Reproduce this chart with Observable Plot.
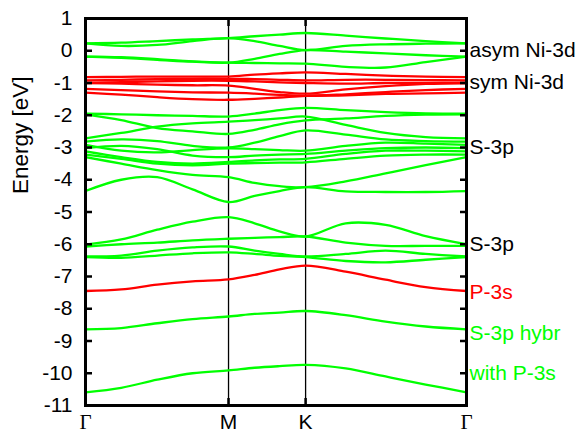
<!DOCTYPE html>
<html><head><meta charset="utf-8">
<script src="https://cdn.jsdelivr.net/npm/d3@7"></script>
<script src="https://cdn.jsdelivr.net/npm/@observablehq/plot@0.6"></script>
<style>body{margin:0;background:#fff}</style>
</head><body><div id="chart"></div>
<script>
// k-path positions (Γ – M – K – Γ) of the sampled points
const kpath = [0, 0.148, 0.297, 0.443, 0.592, 0.700, 0.803, 0.911, 1.077, 1.242, 1.408, 1.577];
const symPos = [0, 0.592, 0.911, 1.577];
const symLabels = ["Γ", "M", "K", "Γ"];
const yTicks = [-11, -10, -9, -8, -7, -6, -5, -4, -3, -2, -1, 0, 1];
const yTitle = "Energy [eV]";

// green bands (S-3p dominated)
const t1 = [0.23, 0.25, 0.30, 0.35, 0.39, 0.45, 0.50, 0.55, 0.47, 0.38, 0.30, 0.23];
const t2 = [0.23, 0.15, 0.18, 0.30, 0.39, 0.30, 0.15, 0.02, 0.15, 0.20, 0.22, 0.23];
const t3 = [-0.18, -0.22, -0.28, -0.34, -0.37, -0.25, -0.10, 0.02, -0.03, -0.08, -0.14, -0.18];
const t4 = [-0.18, -0.20, -0.26, -0.33, -0.37, -0.38, -0.39, -0.40, -0.50, -0.52, -0.35, -0.18];
const u1 = [-1.95, -1.97, -2.00, -2.02, -2.04, -1.95, -1.84, -1.77, -1.84, -1.90, -1.94, -1.95];
const u2 = [-1.97, -2.15, -2.40, -2.50, -2.58, -2.45, -2.28, -2.16, -2.10, -2.02, -1.98, -1.97];
const u3 = [-2.72, -2.55, -2.35, -2.25, -2.20, -2.15, -2.10, -2.04, -2.30, -2.55, -2.68, -2.72];
const u4 = [-2.82, -2.75, -2.80, -2.95, -3.00, -2.85, -2.65, -2.47, -2.60, -2.75, -2.80, -2.82];
const u5 = [-2.92, -3.10, -3.15, -3.08, -3.03, -3.05, -3.08, -3.10, -2.95, -2.85, -2.88, -2.92];
const u6 = [-3.02, -2.95, -3.05, -3.25, -3.30, -3.25, -3.22, -3.20, -3.10, -3.02, -3.00, -3.02];
const u7 = [-3.12, -3.30, -3.45, -3.50, -3.45, -3.40, -3.37, -3.35, -3.20, -3.10, -3.10, -3.12];
const u8 = [-3.22, -3.35, -3.50, -3.55, -3.50, -3.48, -3.47, -3.46, -3.35, -3.25, -3.22, -3.22];
const u9 = [-3.30, -3.50, -3.70, -3.85, -3.92, -4.10, -4.20, -4.23, -4.05, -3.80, -3.55, -3.30];
const s1 = [-4.35, -4.00, -3.92, -4.30, -4.69, -4.50, -4.35, -4.23, -4.36, -4.38, -4.38, -4.35];
const l1 = [-6.01, -5.85, -5.55, -5.30, -5.16, -5.35, -5.60, -5.76, -5.35, -5.40, -5.75, -6.00];
const l2 = [-6.07, -6.00, -5.95, -5.88, -5.83, -5.80, -5.78, -5.76, -5.95, -6.05, -6.05, -6.05];
const l3 = [-6.38, -6.35, -6.20, -6.10, -6.07, -6.20, -6.30, -6.38, -6.30, -6.20, -6.30, -6.38];
const l4 = [-6.40, -6.42, -6.35, -6.28, -6.25, -6.30, -6.36, -6.40, -6.52, -6.56, -6.48, -6.40];
const h1 = [-8.64, -8.60, -8.45, -8.32, -8.24, -8.16, -8.12, -8.07, -8.20, -8.40, -8.55, -8.64];
const h2 = [-10.59, -10.45, -10.20, -10.00, -9.91, -9.83, -9.78, -9.74, -9.85, -10.10, -10.35, -10.59];

// red bands (Ni-3d, P-3s)
const r1 = [-0.82, -0.81, -0.80, -0.80, -0.80, -0.74, -0.70, -0.67, -0.72, -0.77, -0.80, -0.82];
const r2 = [-0.92, -0.90, -0.88, -0.87, -0.87, -0.88, -0.90, -0.92, -0.90, -0.90, -0.91, -0.92];
const r3 = [-1.00, -1.02, -1.05, -1.07, -1.08, -1.18, -1.28, -1.33, -1.20, -1.10, -1.03, -1.00];
const r4 = [-1.00, -0.97, -0.95, -0.93, -0.93, -0.95, -0.98, -1.00, -1.02, -1.00, -1.00, -1.00];
const r5 = [-1.18, -1.22, -1.26, -1.29, -1.30, -1.33, -1.37, -1.40, -1.35, -1.28, -1.22, -1.18];
const r6 = [-1.30, -1.36, -1.44, -1.50, -1.52, -1.49, -1.45, -1.40, -1.38, -1.34, -1.32, -1.30];
const p1 = [-7.45, -7.40, -7.25, -7.15, -7.09, -6.95, -6.78, -6.66, -6.85, -7.10, -7.33, -7.45];

// annotation labels on the right
const noteText = ["asym Ni-3d", "sym Ni-3d", "S-3p", "S-3p", "P-3s", "S-3p hybr", "with P-3s"];
const noteE = [0.0, -0.97, -3.0, -6.0, -7.48, -8.77, -10.0];
const noteColor = ["black", "black", "black", "black", "#ff0000", "#00ff00", "#00ff00"];

const greenBands = {t1, t2, t3, t4, u1, u2, u3, u4, u5, u6, u7, u8, u9, s1, l1, l2, l3, l4, h1, h2};
const redBands = {r1, r2, r3, r4, r5, r6, p1};
const toRows = (bands) => Object.entries(bands).flatMap(([name, es]) => es.map((e, i) => ({band: name, k: kpath[i], e})));
const greenRows = toRows(greenBands);
const redRows = toRows(redBands);
const notes = noteText.map((t, i) => ({t, e: noteE[i], c: noteColor[i], k: symPos[3]}));
const labelOf = new Map(symPos.map((p, i) => [p, symLabels[i]]));
const innerSym = [symPos[1], symPos[2]];

const chart = Plot.plot({
  width: 586, height: 437,
  marginLeft: 85, marginRight: 120, marginTop: 18, marginBottom: 32,
  x: {domain: [symPos[0], symPos[3]]},
  y: {domain: [-11, 1]},
  color: {type: "identity"},
  style: {fontFamily: "'Liberation Sans', Arial, sans-serif", fontSize: "21px", background: "white", overflow: "visible"},
  marks: [
    Plot.ruleX(innerSym, {stroke: "black", strokeWidth: 1.3}),
    Plot.line(redRows, {x: "k", y: "e", z: "band", stroke: "#ff0000", strokeWidth: 2.3, curve: "catmull-rom"}),
    Plot.line(greenRows, {x: "k", y: "e", z: "band", stroke: "#00ff00", strokeWidth: 2.3, curve: "catmull-rom"}),
    Plot.axisY({ticks: yTicks, tickSize: 0, tickPadding: 13, tickFormat: d => String(d), fill: "black", label: null}),
    Plot.axisY({ticks: yTicks, anchor: "left", tickSize: -7, strokeWidth: 2.5, text: null, label: null}),
    Plot.axisY({ticks: yTicks, anchor: "right", tickSize: -7, strokeWidth: 2.5, text: null, label: null}),
    Plot.text([yTitle], {frameAnchor: "left", text: d => d, rotate: -90, dx: -65, dy: -18, fontSize: 22.5, fill: "black"}),
    Plot.axisX({ticks: [symPos[0], symPos[3]], tickSize: 0, tickPadding: 9, tickFormat: d => labelOf.get(d),
      fontFamily: "'Liberation Serif', 'DejaVu Serif', serif", label: null}),
    Plot.axisX({ticks: innerSym, tickSize: 0, tickPadding: 9, tickFormat: d => labelOf.get(d), label: null}),
    Plot.axisX({ticks: innerSym, anchor: "bottom", tickSize: -7, strokeWidth: 2.5, text: null, label: null}),
    Plot.axisX({ticks: innerSym, anchor: "top", tickSize: -7, strokeWidth: 2.5, text: null, label: null}),
    Plot.frame({stroke: "black", strokeWidth: 3}),
    Plot.text(notes, {x: "k", y: "e", text: "t", fill: "c", textAnchor: "start", dx: 3, fontSize: 21})
  ]
});
document.getElementById("chart").appendChild(chart);
</script>
</body></html>
